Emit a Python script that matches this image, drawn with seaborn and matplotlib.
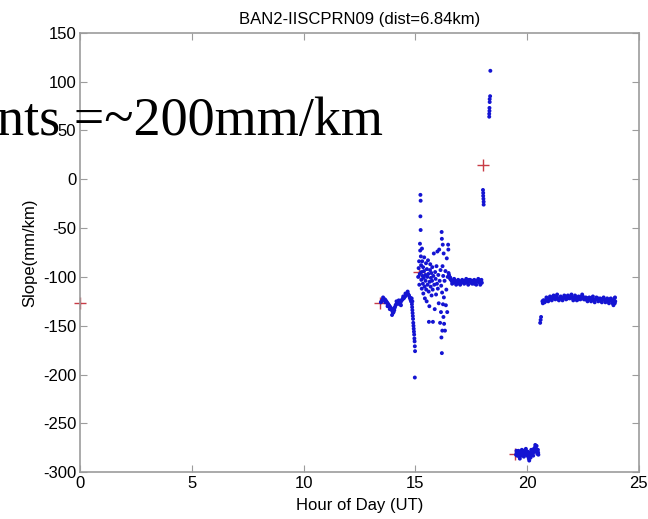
import matplotlib
matplotlib.use("Agg")
import matplotlib.pyplot as plt
import pandas as pd
import seaborn as sns

# ---- labels -------------------------------------------------------------
title = "BAN2-IISCPRN09 (dist=6.84km)"
x_label = "Hour of Day (UT)"
y_label = "Slope(mm/km)"
note = "nts =~200mm/km"
x_ticks = [0, 5, 10, 15, 20, 25]
y_ticks = [150, 100, 50, 0, -50, -100, -150, -200, -250, -300]

# ---- start of each tracked arc (red crosses) ----------------------------
start_hours = [0.0, 13.42, 15.15, 18.02, 19.45]
start_slopes = [-127, -127, -95, 15, -281]

# ---- 13.4-14.8 h: wandering track --------------------------------------
hours_a = [13.45, 13.48, 13.51, 13.54, 13.57, 13.60, 13.63, 13.66, 13.69, 13.72,
           13.75, 13.78, 13.81, 13.84, 13.87, 13.90, 13.93, 13.96, 13.99, 14.02,
           14.05, 14.08, 14.11, 14.14, 14.17, 14.20, 14.23, 14.26, 14.29, 14.32,
           14.35, 14.38, 14.41, 14.44, 14.47, 14.50, 14.53, 14.56, 14.59, 14.62,
           14.65, 14.68, 14.71, 14.74, 14.77, 14.80,
           13.55, 13.65, 13.75, 13.85, 13.95, 14.05, 14.15, 14.25, 14.35, 14.45,
           14.55, 14.65, 14.75]
slope_a = [-126, -125, -124, -123, -123, -123, -123, -124, -125, -126,
           -127, -128, -129, -130, -131, -132, -133, -135, -137, -136,
           -134, -131, -129, -128, -127, -126, -126, -127, -128, -127,
           -125, -124, -123, -122, -122, -121, -120, -119, -118, -117,
           -117, -118, -119, -121, -123, -125,
           -121, -126, -130, -133, -139, -132, -125, -124, -129, -120,
           -117, -115, -121]

# ---- ~14.9 h: falling column -------------------------------------------
hours_b = [14.83, 14.84, 14.85, 14.86, 14.86, 14.87, 14.88, 14.89, 14.90, 14.91,
           14.92, 14.93, 14.94, 14.95, 14.96, 14.97, 14.98, 14.97]
slope_b = [-122, -128, -131, -125, -134, -137, -140, -143, -147, -150,
           -153, -156, -159, -163, -166, -171, -176, -203]

# ---- 15.1-16.5 h: scattered burst ---------------------------------------
hours_c = [15.12, 15.14, 15.16, 15.17, 15.19, 15.20, 15.21, 15.22, 15.23, 15.22,
           15.23, 15.24, 15.25, 15.26, 15.27, 15.28, 15.29, 15.30, 15.31, 15.33,
           15.34, 15.35, 15.37, 15.38, 15.39, 15.41, 15.42, 15.44, 15.45, 15.47,
           15.48, 15.50, 15.51, 15.53, 15.54, 15.56, 15.57, 15.59, 15.60, 15.62,
           15.63, 15.65, 15.66, 15.68, 15.69, 15.71, 15.72, 15.74, 15.75, 15.77,
           15.78, 15.80, 15.82, 15.84, 15.86, 15.88, 15.90, 15.92, 15.94, 15.96,
           15.98, 16.00, 16.02, 16.04, 16.06, 16.08, 16.10, 16.12, 16.14, 16.15,
           16.16, 16.17, 16.18, 16.18, 16.19, 16.20, 16.21, 16.22, 16.23, 16.24,
           16.25, 16.26, 16.27, 16.28, 16.30, 16.32, 16.34, 16.36, 16.38, 16.40,
           16.42, 16.44, 16.46, 16.47, 16.48]
slope_c = [-100, -91, -84, -108, -97, -66, -73, -16, -22, -38,
           -52, -79, -88, -103, -95, -112, -71, -84, -99, -107,
           -90, -117, -101, -94, -80, -110, -122, -98, -104, -86,
           -113, -125, -92, -100, -108, -83, -97, -115, -146, -130,
           -105, -93, -87, -110, -101, -96, -119, -104, -90, -113,
           -146, -99, -76, -108, -133, -95, -102, -118, -89, -107,
           -74, -112, -98, -127, -72, -104, -147, -93, -136, -109,
           -162, -54, -178, -61, -116, -155, -89, -67, -128, -99,
           -141, -76, -121, -148, -104, -155, -94, -129, -113, -81,
           -136, -100, -67, -72, -96]

# ---- 16.5-18.0 h: steady band ------------------------------------------
hours_d = [16.50, 16.53, 16.56, 16.59, 16.62, 16.65, 16.68, 16.71, 16.74, 16.77,
           16.80, 16.83, 16.86, 16.89, 16.92, 16.95, 16.98, 17.01, 17.04, 17.07,
           17.10, 17.13, 17.16, 17.19, 17.22, 17.25, 17.28, 17.31, 17.34, 17.37,
           17.40, 17.43, 17.46, 17.49, 17.52, 17.55, 17.58, 17.61, 17.64, 17.67,
           17.70, 17.73, 17.76, 17.79, 17.82, 17.85, 17.88, 17.91, 17.94, 17.97,
           16.55, 16.64, 16.73, 16.82, 16.91, 17.00, 17.09, 17.18, 17.27, 17.36,
           17.45, 17.54, 17.63, 17.72, 17.81, 17.90, 17.95]
slope_d = [-98, -100, -101, -103, -104, -105, -104, -106, -105, -104,
           -105, -106, -105, -104, -105, -106, -107, -106, -105, -104,
           -105, -105, -106, -105, -104, -104, -105, -106, -105, -104,
           -103, -104, -105, -106, -105, -104, -105, -106, -107, -106,
           -105, -104, -105, -104, -103, -105, -106, -104, -105, -106,
           -102, -107, -102, -108, -103, -108, -103, -107, -102, -108,
           -103, -107, -103, -108, -102, -108, -103]

# ---- ~18 h: short arcs ---------------------------------------------------
hours_e = [18.02, 18.03, 18.03, 18.04, 18.05, 18.05,
           18.30, 18.30, 18.31, 18.31, 18.32, 18.32, 18.34, 18.35]
slope_e = [-11, -14, -17, -20, -23, -26,
           64, 67, 70, 73, 79, 82, 85, 111]

# ---- 19.5-20.5 h: low arc -----------------------------------------------
hours_f = [19.50, 19.53, 19.56, 19.59, 19.62, 19.65, 19.68, 19.71, 19.74, 19.77,
           19.80, 19.83, 19.86, 19.89, 19.92, 19.95, 19.98, 20.01, 20.04, 20.07,
           20.10, 20.13, 20.16, 20.19, 20.22, 20.25, 20.28, 20.31, 20.34, 20.37,
           20.40, 20.43, 20.46, 20.49, 20.50,
           19.52, 19.55, 19.58, 19.61, 19.64, 19.67, 19.70, 19.73, 19.76, 19.79,
           19.82, 19.85, 19.88, 19.91, 19.94, 19.97, 20.00, 20.03, 20.06, 20.09,
           20.12, 20.15, 20.18, 20.21, 20.24, 20.27, 20.30, 20.33, 20.36, 20.39,
           20.42, 20.45, 20.48]
slope_f = [-282, -280, -279, -281, -283, -284, -282, -280, -279, -280,
           -281, -282, -281, -280, -279, -278, -280, -281, -282, -286,
           -283, -282, -280, -279, -281, -280, -279, -277, -275, -274,
           -276, -278, -279, -280, -282,
           -278, -283, -282, -278, -280, -286, -279, -283, -277, -282,
           -278, -284, -279, -282, -276, -281, -283, -279, -284, -288,
           -280, -285, -277, -282, -278, -283, -276, -279, -272, -277,
           -273, -281, -277]

# ---- 20.6-24 h: late band -----------------------------------------------
hours_g = [20.58, 20.60, 20.62, 20.68, 20.72, 20.76, 20.80, 20.84, 20.88, 20.92,
           20.96, 21.00, 21.04, 21.08, 21.12, 21.16, 21.20, 21.24, 21.28, 21.32,
           21.36, 21.40, 21.44, 21.48, 21.52, 21.56, 21.60, 21.64, 21.68, 21.72,
           21.76, 21.80, 21.84, 21.88, 21.92, 21.96, 22.00, 22.04, 22.08, 22.12,
           22.16, 22.20, 22.24, 22.28, 22.32, 22.36, 22.40, 22.44, 22.48, 22.52,
           22.56, 22.60, 22.64, 22.68, 22.72, 22.76, 22.80, 22.84, 22.88, 22.92,
           22.96, 23.00, 23.04, 23.08, 23.12, 23.16, 23.20, 23.24, 23.28, 23.32,
           23.36, 23.40, 23.44, 23.48, 23.52, 23.56, 23.60, 23.64, 23.68, 23.72,
           23.76, 23.80, 23.84, 23.88, 23.90, 23.92, 23.94,
           20.70, 20.78, 20.86, 20.94, 21.02, 21.10, 21.18, 21.26, 21.34, 21.42,
           21.50, 21.58, 21.66, 21.74, 21.82, 21.90, 21.98, 22.06, 22.14, 22.22,
           22.30, 22.38, 22.46, 22.54, 22.62, 22.70, 22.78, 22.86, 22.94, 23.02,
           23.10, 23.18, 23.26, 23.34, 23.42, 23.50, 23.58, 23.66, 23.74, 23.82,
           23.86, 23.93]
slope_g = [-147, -144, -141, -125, -124, -124, -125, -124, -123, -122,
           -123, -123, -122, -121, -121, -122, -121, -120, -120, -121,
           -122, -123, -122, -121, -121, -122, -122, -121, -120, -121,
           -122, -122, -121, -121, -120, -120, -121, -122, -122, -121,
           -121, -122, -122, -123, -122, -121, -121, -120, -120, -121,
           -122, -123, -123, -122, -122, -123, -123, -122, -122, -123,
           -123, -124, -123, -123, -122, -122, -123, -124, -124, -123,
           -123, -122, -123, -124, -124, -123, -124, -125, -124, -123,
           -124, -125, -124, -126, -122, -127, -125,
           -127, -126, -121, -125, -120, -124, -119, -123, -118, -124,
           -120, -124, -119, -123, -119, -122, -118, -124, -119, -124,
           -120, -123, -118, -123, -121, -125, -121, -125, -120, -126,
           -121, -125, -122, -126, -121, -126, -122, -127, -122, -127,
           -129, -121]

# ---- assemble -----------------------------------------------------------
dots = pd.DataFrame({
    "hour": hours_a + hours_b + hours_c + hours_d + hours_e + hours_f + hours_g,
    "slope": slope_a + slope_b + slope_c + slope_d + slope_e + slope_f + slope_g,
})
starts = pd.DataFrame({"hour": start_hours, "slope": start_slopes})

plt.rcParams["font.family"] = ["Liberation Sans", "DejaVu Sans"]
plt.rcParams["axes.unicode_minus"] = False

fig = plt.figure(figsize=(6.48, 5.19), dpi=100)
ax = fig.add_axes([0.124, 0.090, 0.862, 0.847])

sns.scatterplot(data=dots, x="hour", y="slope", ax=ax, marker="o", s=8,
                color="#1414d2", edgecolor="none", linewidth=0, zorder=3)
sns.scatterplot(data=starts, x="hour", y="slope", ax=ax, marker="+", s=70,
                color="#c83c46", linewidth=1.0, zorder=2, clip_on=False)

ax.set_xlim(0, 25)
ax.set_ylim(-300, 150)
ax.set_xticks(x_ticks)
ax.set_yticks(y_ticks)
ax.set_xlabel(x_label, fontsize=12, labelpad=5)
ax.set_ylabel(y_label, fontsize=12, labelpad=4)
ax.set_title(title, fontsize=12, pad=6)

grey = "#9c9c9c"
for side in ax.spines.values():
    side.set_color(grey)
    side.set_linewidth(1.2)
ax.tick_params(direction="in", length=5, width=0.8, color=grey,
               labelsize=12, top=True, right=True, pad=3)

# annotation text laid over the upper-left corner
fig.text(383 / 648, 1 - 135 / 519, note, ha="right", va="baseline",
         fontsize=39, family=["Liberation Serif", "DejaVu Serif"], color="black",
         zorder=10)

fig.savefig("out.png", dpi=100, facecolor="white")
